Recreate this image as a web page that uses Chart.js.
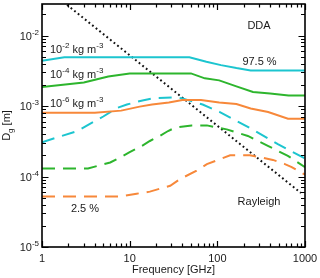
<!DOCTYPE html>
<html>
<head>
  <title>Dg vs frequency</title>
  <script src="https://cdn.jsdelivr.net/npm/chart.js"></script>
  <style>
    html, body { margin: 0; padding: 0; background: #fff; }
  </style>
</head>
<body>
<canvas id="dgChart" width="320" height="278"></canvas>
<script>
  // 97.5 % curves (solid), one per water content
  const fCyanHi = [1, 1.8, 48, 75, 110, 165, 240, 1000];
  const dCyanHi = [4.4e-3, 4.93e-3, 4.93e-3, 4.25e-3, 3.8e-3, 3.45e-3, 3.2e-3, 3.2e-3];
  const fGreenHi = [1, 3, 5.7, 10, 50, 72, 105, 165, 255, 400, 650, 1000];
  const dGreenHi = [1.86e-3, 2.16e-3, 2.63e-3, 2.9e-3, 2.9e-3, 2.47e-3, 2.31e-3, 1.9e-3, 1.58e-3, 1.5e-3, 1.41e-3, 1.41e-3];
  const fOrangeHi = [1, 4, 8, 13, 18, 28, 40, 65, 105, 165, 240, 380, 640, 1000];
  const dOrangeHi = [8.0e-4, 8.05e-4, 8.6e-4, 9.8e-4, 1.05e-3, 1.12e-3, 1.22e-3, 1.22e-3, 1.12e-3, 1.07e-3, 9.2e-4, 8.2e-4, 6.6e-4, 6.6e-4];

  // 2.5 % curves (dashed)
  const fCyanLo = [1, 2.5, 5, 7.2, 9.3, 14, 19.5, 33, 40, 68, 107, 250, 490, 1000];
  const dCyanLo = [3.06e-4, 4.4e-4, 7.1e-4, 9.4e-4, 1.05e-3, 1.2e-3, 1.3e-3, 1.32e-3, 1.28e-3, 1.05e-3, 8.2e-4, 4.67e-4, 2.87e-4, 1.8e-4];
  const fGreenLo = [1, 3.35, 6, 8.4, 10, 13.8, 17, 22, 27.4, 33, 51, 76, 128, 223, 377, 638, 1000];
  const dGreenLo = [1.3e-4, 1.3e-4, 1.58e-4, 1.96e-4, 2.21e-4, 2.72e-4, 3.19e-4, 3.76e-4, 4.42e-4, 4.93e-4, 5.31e-4, 5.31e-4, 4.66e-4, 3.76e-4, 2.72e-4, 1.96e-4, 1.36e-4];
  const fOrangeLo = [1, 7.75, 12, 17, 22, 29, 37.5, 58, 76, 107, 140, 235, 305, 430, 590, 705, 875, 1000];
  const dOrangeLo = [5.2e-5, 5.2e-5, 5.7e-5, 6.1e-5, 6.7e-5, 7.4e-5, 9.2e-5, 1.21e-4, 1.5e-4, 1.76e-4, 2.0e-4, 2.0e-4, 1.88e-4, 1.72e-4, 1.5e-4, 1.36e-4, 1.16e-4, 1.06e-4];

  // Rayleigh limit
  const fRayleigh = [1, 900];
  const dRayleigh = [0.0525, 5.83e-5];

  const xTickValues = [1, 10, 100, 1000];
  const yTickExponents = [-5, -4, -3, -2];
  const iwcExponents = ['-2', '-4', '-6'];

  const CYAN = '#1cc5cf', GREEN = '#2db52d', ORANGE = '#f7883a';
  const FONT = '"Liberation Sans", Arial, sans-serif';
  const TEXT = '#1a1a1a';

  function pts(f, d) { return f.map((v, i) => ({ x: v, y: d[i] })); }

  function line(f, d, color, dashed) {
    return {
      data: pts(f, d),
      borderColor: color,
      borderWidth: 2,
      borderDash: dashed ? [13, 8] : [],
      pointRadius: 0,
      tension: 0,
      fill: false
    };
  }

  // text with super/subscripts: parts = [[text, 0|1|2]] 0 normal, 1 sup, 2 sub
  function rich(ctx, parts, x, y, align, size) {
    const small = Math.round(size * 0.7);
    let w = 0;
    const ws = parts.map(([t, k]) => {
      ctx.font = (k ? small : size) + 'px ' + FONT;
      const m = ctx.measureText(t).width;
      w += m;
      return m;
    });
    let cx = align === 'center' ? x - w / 2 : align === 'right' ? x - w : x;
    ctx.textAlign = 'left';
    ctx.textBaseline = 'alphabetic';
    parts.forEach(([t, k], i) => {
      ctx.font = (k ? small : size) + 'px ' + FONT;
      const dy = k === 1 ? -size * 0.42 : k === 2 ? size * 0.25 : 0;
      ctx.fillText(t, cx, y + dy);
      cx += ws[i];
    });
  }

  const decor = {
    id: 'decor',
    afterDatasetsDraw(chart) {
      const { ctx, chartArea: a, scales: { x, y } } = chart;
      ctx.save();
      ctx.strokeStyle = '#000';
      ctx.lineWidth = 1.6;
      ctx.strokeRect(a.left, a.top, a.right - a.left, a.bottom - a.top);

      ctx.lineWidth = 1.2;
      ctx.beginPath();
      for (let e = 0; e <= 3; e++) {
        for (let m = 1; m <= 9; m++) {
          const v = m * Math.pow(10, e);
          if (v > 1000) break;
          const px = Math.round(x.getPixelForValue(v)) + 0.5;
          const len = m === 1 ? 6 : 3.5;
          ctx.moveTo(px, a.bottom); ctx.lineTo(px, a.bottom - len);
          ctx.moveTo(px, a.top); ctx.lineTo(px, a.top + len);
        }
      }
      for (let e = -5; e <= -2; e++) {
        for (let m = 1; m <= 9; m++) {
          const v = m * Math.pow(10, e);
          if (v > y.max) break;
          const py = Math.round(y.getPixelForValue(v)) + 0.5;
          const len = m === 1 ? 6.5 : 4;
          ctx.moveTo(a.left, py); ctx.lineTo(a.left + len, py);
          ctx.moveTo(a.right, py); ctx.lineTo(a.right - len, py);
        }
      }
      ctx.stroke();

      ctx.fillStyle = TEXT;
      // x tick labels
      ctx.font = '11px ' + FONT;
      ctx.textAlign = 'center';
      ctx.textBaseline = 'alphabetic';
      xTickValues.forEach(v => ctx.fillText(String(v), x.getPixelForValue(v), 262));
      // y tick labels
      yTickExponents.forEach(e => {
        const py = y.getPixelForValue(Math.pow(10, e));
        rich(ctx, [['10', 0], [String(e), 1]], 39, py + 4, 'right', 11);
      });

      // axis titles
      ctx.font = '11px ' + FONT;
      ctx.textAlign = 'center';
      ctx.fillText('Frequency [GHz]', (a.left + a.right) / 2, 273);
      ctx.save();
      ctx.translate(10, (a.top + a.bottom) / 2);
      ctx.rotate(-Math.PI / 2);
      rich(ctx, [['D', 0], ['g', 2], [' [m]', 0]], 0, 0, 'center', 11);
      ctx.restore();

      // annotations
      const iwcBase = [52.5, 78, 106.5];
      iwcExponents.forEach((e, i) => {
        rich(ctx, [['10', 0], [e, 1], [' kg m', 0], ['-3', 1]], 50, iwcBase[i], 'left', 11);
      });
      ctx.font = '11px ' + FONT;
      ctx.textAlign = 'center';
      ctx.fillText('DDA', 259, 28.5);
      ctx.fillText('97.5 %', 259.5, 65);
      ctx.fillText('Rayleigh', 259, 205);
      ctx.fillText('2.5 %', 85, 211.5);
      ctx.restore();
    }
  };

  new Chart(document.getElementById('dgChart'), {
    type: 'line',
    data: {
      datasets: [
        line(fCyanHi, dCyanHi, CYAN, false),
        line(fGreenHi, dGreenHi, GREEN, false),
        line(fOrangeHi, dOrangeHi, ORANGE, false),
        line(fCyanLo, dCyanLo, CYAN, true),
        line(fGreenLo, dGreenLo, GREEN, true),
        line(fOrangeLo, dOrangeLo, ORANGE, true),
        {
          data: pts(fRayleigh, dRayleigh),
          borderColor: '#111',
          borderWidth: 2,
          borderDash: [1.8, 2.8],
          pointRadius: 0,
          tension: 0,
          fill: false
        }
      ]
    },
    options: {
      responsive: false,
      animation: false,
      devicePixelRatio: 1,
      layout: { padding: { left: 0, top: 4, right: 15, bottom: 0 } },
      plugins: { legend: { display: false }, tooltip: { enabled: false } },
      scales: {
        x: {
          type: 'logarithmic', min: 1, max: 1000,
          grid: { display: false }, border: { display: false },
          ticks: { display: false },
          afterFit(s) { s.height = 31; }
        },
        y: {
          type: 'logarithmic', min: 1e-5, max: 0.028,
          grid: { display: false }, border: { display: false },
          ticks: { display: false },
          afterFit(s) { s.width = 42; }
        }
      }
    },
    plugins: [decor]
  });
</script>
</body>
</html>
